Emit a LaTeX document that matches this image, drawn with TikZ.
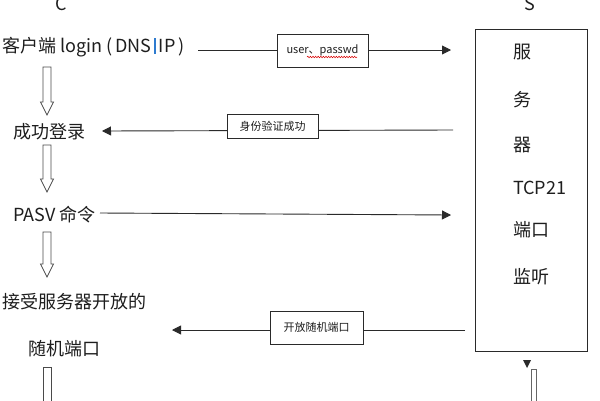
\documentclass[tikz,border=0pt]{standalone}
\usepackage{fontspec}
\setmainfont{Noto Sans CJK SC}
\usetikzlibrary{arrows.meta,decorations.pathmorphing}
\definecolor{ink}{HTML}{1E1E1E}
\definecolor{lineink}{HTML}{2A2A2A}
\definecolor{cursorblue}{HTML}{2E7BCF}
\newcommand\hollowdown[3]{\draw[hollow] (#1-4,#2) -- (#1+4,#2) -- (#1+4,#3-13) -- (#1+6.5,#3-13) -- (#1,#3) -- (#1-6.5,#3-13) -- (#1-4,#3-13) -- cycle;}
\begin{document}
\begin{tikzpicture}[x=1pt,y=-1pt,
  ctext/.style={anchor=west, inner sep=0pt, font=\fontsize{18}{21}\selectfont, text=ink},
  stext/.style={anchor=west, inner sep=0pt, font=\fontsize{18}{21}\selectfont, text=ink},
  lbox/.style={draw=lineink, line width=0.8pt, fill=white, inner sep=0pt, font=\fontsize{11}{13}\selectfont, text=ink},
  conn/.style={draw=lineink, line width=0.9pt},
  tip/.style={-{Triangle[length=9pt,width=9pt]}},
  hollow/.style={draw=lineink!85, line width=0.8pt, fill=white}
]
\useasboundingbox (0,0) rectangle (600,400);
\fill[white] (0,0) rectangle (600,400);

% column headings
\node[ctext, anchor=center] (hc) at (61,4) {C};
\node[ctext, anchor=center] (hs) at (530,4) {S};

% client steps
\node[ctext] (c1) at (2,47) {客户端 login\hspace{4pt}(\hspace{3pt}DNS\hspace{2pt}\textcolor{cursorblue}{\rule[-1.5pt]{2.2pt}{16pt}}\hspace{3pt}IP\hspace{3pt})};
\node[ctext] (c2) at (13,132) {成功登录};
\node[ctext] (c3) at (13,215) {PASV 命令};
\node[ctext] (c4) at (2,302) {接受服务器开放的};
\node[ctext] (c5) at (28,349) {随机端口};

% server box
\node[draw=lineink, line width=0.9pt, minimum width=112pt, minimum height=322pt, inner sep=0pt] (srv) at (531,190) {};
\node[stext] (s1) at (513,52) {服};
\node[stext] (s2) at (513,100) {务};
\node[stext] (s3) at (513,145) {器};
\node[stext] (s4) at (513,188) {TCP21};
\node[stext] (s5) at (513,230) {端口};
\node[stext] (s6) at (513,277) {监听};

% hollow arrows between client steps
\hollowdown{47}{67}{115}
\hollowdown{47}{145}{192}
\hollowdown{47}{232}{277}
\draw[hollow] (43,401) -- (43,367) -- (51,367) -- (51,401);

% connector 1: user, passwd
\coordinate (a1) at (198,50);
\coordinate (a1e) at (451,50);
\draw[conn] (a1) -- (a1e -| 277,0);
\draw[conn, tip] (368,50) -- (a1e);
\node[lbox, minimum width=91pt, minimum height=33pt] (b1) at (322.5,50.5) {user、passwd};
\draw[red!85!black, line width=0.5pt, decorate, decoration={snake, amplitude=0.8pt, segment length=2.6pt}] (307,57) -- (357,57);

% connector 2: authentication OK
\coordinate (a2) at (453,130);
\coordinate (a2e) at (102,131);
\draw[conn, tip] (a2) -- (a2e);
\node[lbox, minimum width=91pt, minimum height=24pt] (b2) at (272.5,126) {身份验证成功};

% connector 3: PASV
\coordinate (a3) at (100,213);
\coordinate (a3e) at (451,215);
\draw[conn, tip] (a3) -- (a3e);

% connector 4: open random port
\coordinate (a4) at (465,330);
\coordinate (a4e) at (172,330);
\draw[conn, tip] (a4) -- (a4e);
\node[lbox, minimum width=93pt, minimum height=33pt] (b4) at (316.5,327.5) {开放随机端口};

% bottom right fragment
\fill[lineink] (523,360) -- (531,360) -- (527,368) -- cycle;
\draw[hollow, draw=gray!80!black] (531,401) -- (531,369) -- (536,369) -- (536,401);
\end{tikzpicture}
\end{document}
